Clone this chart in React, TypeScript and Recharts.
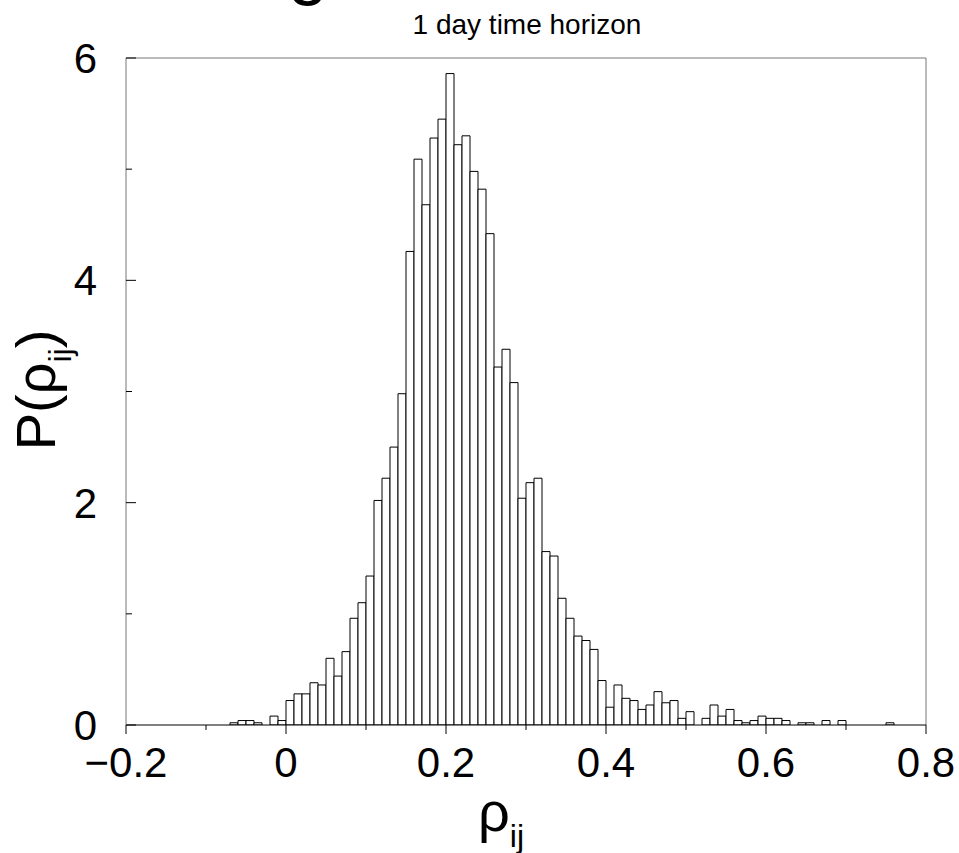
import React from "react";
import { BarChart, Bar, XAxis, YAxis, ReferenceLine } from "recharts";

// bin centres of the 0.01 wide histogram bins
const binCenters = [
  -0.065, -0.055, -0.045, -0.035, -0.025, -0.015, -0.005,
  0.005, 0.015, 0.025, 0.035, 0.045, 0.055, 0.065, 0.075, 0.085, 0.095,
  0.105, 0.115, 0.125, 0.135, 0.145, 0.155, 0.165, 0.175, 0.185, 0.195,
  0.205, 0.215, 0.225, 0.235, 0.245, 0.255, 0.265, 0.275, 0.285, 0.295,
  0.305, 0.315, 0.325, 0.335, 0.345, 0.355, 0.365, 0.375, 0.385, 0.395,
  0.405, 0.415, 0.425, 0.435, 0.445, 0.455, 0.465, 0.475, 0.485, 0.495,
  0.505, 0.515, 0.525, 0.535, 0.545, 0.555, 0.565, 0.575, 0.585, 0.595,
  0.605, 0.615, 0.625, 0.635, 0.645, 0.655, 0.665, 0.675, 0.685, 0.695,
  0.705, 0.715, 0.725, 0.735, 0.745, 0.755,
];

const density = [
  0.02, 0.04, 0.04, 0.02, 0, 0.08, 0.04,
  0.22, 0.28, 0.28, 0.38, 0.36, 0.6, 0.44, 0.66, 0.96, 1.1,
  1.34, 2.02, 2.22, 2.5, 2.98, 4.26, 5.09, 4.68, 5.28, 5.45,
  5.86, 5.22, 5.3, 4.98, 4.82, 4.42, 3.22, 3.38, 3.08, 2.04,
  2.18, 2.22, 1.56, 1.52, 1.14, 0.96, 0.8, 0.76, 0.68, 0.4,
  0.16, 0.36, 0.24, 0.22, 0.14, 0.18, 0.3, 0.2, 0.22, 0.06,
  0.12, 0, 0.06, 0.18, 0.08, 0.14, 0.04, 0.02, 0.04, 0.08,
  0.06, 0.06, 0.04, 0, 0.02, 0.02, 0, 0.04, 0, 0.04,
  0, 0, 0, 0, 0, 0.02,
];

const xTicks = [-0.2, -0.1, 0, 0.1, 0.2, 0.3, 0.4, 0.5, 0.6, 0.7, 0.8];
const xTickLabels = ["\u22120.2", "", "0", "", "0.2", "", "0.4", "", "0.6", "", "0.8"];
const yTicks = [0, 1, 2, 3, 4, 5, 6];
const yTickLabels = ["0", "", "2", "", "4", "", "6"];

const data = binCenters.map((bin, i) => ({ bin, p: density[i] }));

const FONT = '"Liberation Sans", Arial, Helvetica, sans-serif';

const XTick = (props: any) => {
  const { x, y, index } = props;
  const label = xTickLabels[index];
  const major = label !== "";
  return (
    <g>
      <line x1={x} x2={x} y1={y} y2={y + (major ? 9 : 5)} stroke="#000" strokeWidth={1} />
      {major && (
        <text x={x} y={y + 52} textAnchor="middle" fontSize={42} fontFamily={FONT} fill="#000">
          {label}
        </text>
      )}
    </g>
  );
};

const YTick = (props: any) => {
  const { x, y, index } = props;
  const label = yTickLabels[index];
  const major = label !== "";
  return (
    <g>
      <line x1={x} x2={x + (major ? 10 : 6)} y1={y} y2={y} stroke="#000" strokeWidth={1} />
      {major && (
        <text x={x - 29} y={y + 15} textAnchor="end" fontSize={42} fontFamily={FONT} fill="#000">
          {label}
        </text>
      )}
    </g>
  );
};

export default function App() {
  return (
    <div style={{ position: "absolute", left: 0, top: 0, width: 959, height: 853, background: "#fff" }}>
      <BarChart
        width={959}
        height={853}
        data={data}
        margin={{ top: 58, right: 33, bottom: 68, left: 66 }}
        barCategoryGap={0}
        barGap={0}
      >
        <XAxis
          type="number"
          dataKey="bin"
          domain={[-0.2, 0.8]}
          allowDataOverflow
          ticks={xTicks}
          interval={0}
          height={60}
          tickSize={0}
          tickMargin={0}
          tickLine={false}
          axisLine={{ stroke: "#000", strokeWidth: 1 }}
          tick={<XTick />}
        />
        <YAxis
          type="number"
          domain={[0, 6]}
          allowDataOverflow
          ticks={yTicks}
          interval={0}
          width={60}
          tickSize={0}
          tickMargin={0}
          tickLine={false}
          axisLine={{ stroke: "#777", strokeWidth: 1 }}
          tick={<YTick />}
        />
        <ReferenceLine y={6} stroke="#777" strokeWidth={1} />
        <ReferenceLine x={0.8} stroke="#777" strokeWidth={1} />
        <Bar dataKey="p" fill="#fff" stroke="#000" strokeWidth={1} isAnimationActive={false} />
      </BarChart>
      <svg
        width={959}
        height={853}
        style={{ position: "absolute", left: 0, top: 0, pointerEvents: "none" }}
        fontFamily={FONT}
      >
        {/* tail of a larger heading cut off above the picture */}
        <text x={288} y={-9} fontSize={72} fill="#000">g</text>
        <text x={527} y={34} textAnchor="middle" fontSize={28} fill="#000">
          1 day time horizon
        </text>
        <text x={55} y={390} transform="rotate(-90 55 390)" textAnchor="middle" fontSize={56} fill="#000">
          <tspan>P(ρ</tspan>
          <tspan fontSize={32} dy={16}>ij</tspan>
          <tspan dy={-16}>)</tspan>
        </text>
        <text x={478} y={831} fontSize={56} fill="#000">
          <tspan>ρ</tspan>
          <tspan fontSize={32} dy={16}>ij</tspan>
        </text>
      </svg>
    </div>
  );
}
